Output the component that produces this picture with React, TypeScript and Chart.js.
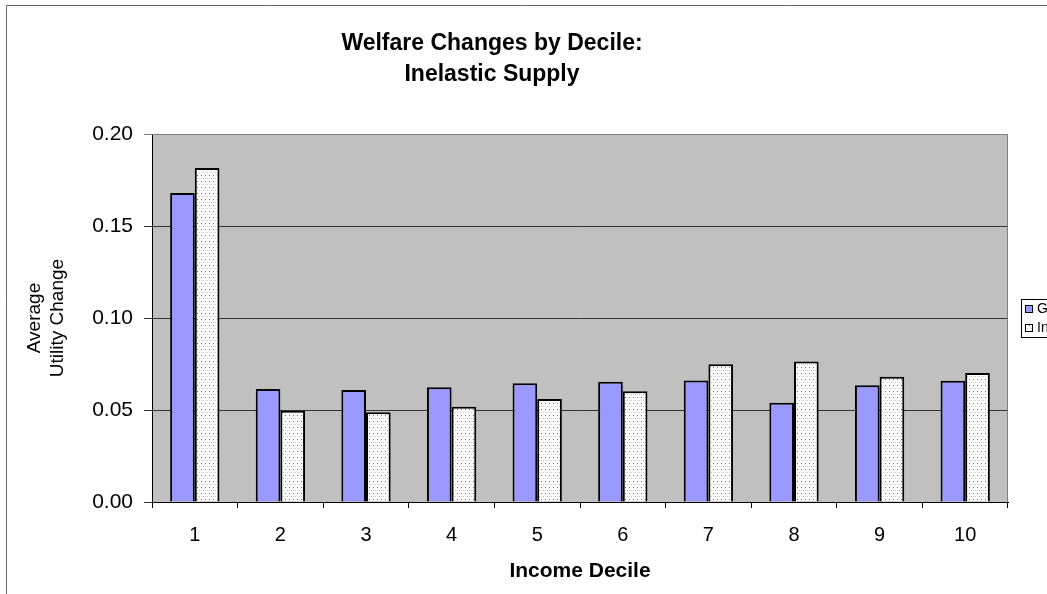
import React, { useEffect, useRef } from "react";
import { Chart, registerables } from "chart.js";

Chart.register(...registerables);

const categories = ["1", "2", "3", "4", "5", "6", "7", "8", "9", "10"];
const seriesNames = ["Gasoline Tax", "Income Tax"];
const seriesG = [0.168, 0.0614, 0.0609, 0.0623, 0.0645, 0.0654, 0.066, 0.054, 0.0634, 0.0659];
const seriesI = [0.1815, 0.0496, 0.0488, 0.0518, 0.056, 0.0602, 0.0748, 0.0763, 0.0681, 0.0701];
const titleLines = ["Welfare Changes by Decile:", "Inelastic Supply"];
const xTitle = "Income Decile";
const yTitle = ["Average", "Utility Change"];

const FONT = "'Liberation Sans', Arial, sans-serif";

function makePattern(): CanvasPattern | string {
  const c = document.createElement("canvas");
  c.width = 4;
  c.height = 6;
  const g = c.getContext("2d");
  if (!g) return "#ffffff";
  g.fillStyle = "#ffffff";
  g.fillRect(0, 0, 4, 6);
  g.fillStyle = "#c2487f";
  g.fillRect(1, 1, 1, 1);
  g.fillStyle = "#eeb0cb";
  g.fillRect(3, 4, 1, 1);
  g.fillStyle = "#f6d6e4";
  g.fillRect(1, 4, 1, 1);
  const p = g.createPattern(c, "repeat");
  return p || "#ffffff";
}

export default function App() {
  const ref = useRef<HTMLCanvasElement | null>(null);

  useEffect(() => {
    if (!ref.current) return;
    const pattern = makePattern();

    const framePlugin = {
      id: "frame",
      beforeDraw(chart: any) {
        const { ctx, chartArea } = chart;
        ctx.save();
        ctx.fillStyle = "#ffffff";
        ctx.fillRect(0, 0, chart.width, chart.height);
        ctx.strokeStyle = "#666666";
        ctx.lineWidth = 1;
        ctx.beginPath();
        ctx.moveTo(6.5, 600);
        ctx.lineTo(6.5, 5.5);
        ctx.lineTo(1100, 5.5);
        ctx.stroke();
        ctx.fillStyle = "#c0c0c0";
        ctx.fillRect(chartArea.left, chartArea.top, chartArea.right - chartArea.left, chartArea.bottom - chartArea.top);
        ctx.restore();
      },
      afterLayout(chart: any) {
        if (chart.titleBlock) {
          chart.titleBlock.left = 0;
          chart.titleBlock.right = 984;
        }
      },
      beforeDatasetsDraw(chart: any) {
        const { ctx, chartArea } = chart;
        ctx.save();
        ctx.strokeStyle = "#808080";
        ctx.lineWidth = 1;
        ctx.beginPath();
        ctx.moveTo(chartArea.left, chartArea.top + 0.5);
        ctx.lineTo(chartArea.right - 0.5, chartArea.top + 0.5);
        ctx.lineTo(chartArea.right - 0.5, chartArea.bottom);
        ctx.stroke();
        ctx.restore();
      },
      afterDraw(chart: any) {
        const { ctx } = chart;
        const ds = chart.data.datasets;
        ctx.save();
        const bx = 1021.5, by = 299.5, bw = 60, bh = 38;
        ctx.fillStyle = "#ffffff";
        ctx.fillRect(bx, by, bw, bh);
        ctx.strokeStyle = "#000000";
        ctx.lineWidth = 1;
        ctx.strokeRect(bx, by, bw, bh);
        ctx.font = `14px ${FONT}`;
        ctx.textBaseline = "middle";
        ctx.textAlign = "left";
        const rows = [309, 328];
        ds.forEach((d: any, i: number) => {
          const y = rows[i];
          ctx.fillStyle = d.backgroundColor;
          ctx.fillRect(1025, y - 4, 8, 8);
          ctx.strokeStyle = "#000000";
          ctx.strokeRect(1025.5, y - 3.5, 7, 7);
          ctx.fillStyle = "#000000";
          ctx.fillText(d.label, 1037, y);
        });
        ctx.restore();
      },
    };

    const chart = new Chart(ref.current, {
      type: "bar",
      data: {
        labels: categories,
        datasets: [
          {
            label: seriesNames[0],
            data: seriesG,
            backgroundColor: "#9999ff",
            borderColor: "#000000",
            borderWidth: 2,
            categoryPercentage: 0.576,
            barPercentage: 1,
          },
          {
            label: seriesNames[1],
            data: seriesI,
            backgroundColor: pattern as any,
            borderColor: "#000000",
            borderWidth: 2,
            categoryPercentage: 0.576,
            barPercentage: 1,
          },
        ],
      },
      options: {
        animation: false,
        responsive: false,
        maintainAspectRatio: false,
        layout: { padding: { left: 0, right: 39, top: 0, bottom: 0 } },
        plugins: {
          legend: { display: false },
          tooltip: { enabled: false },
          title: {
            display: true,
            text: titleLines,
            color: "#000000",
            font: { family: FONT, size: 23, weight: "bold", lineHeight: 1.348 },
            padding: { top: 28.5, bottom: 43.5 },
          },
        },
        scales: {
          x: {
            type: "category",
            offset: true,
            afterFit: (s: any) => {
              s.height = 92;
            },
            grid: {
              offset: true,
              drawOnChartArea: false,
              drawTicks: true,
              tickLength: 6,
              color: "#000000",
            },
            border: { color: "#000000", width: 1 },
            ticks: {
              color: "#000000",
              font: { family: FONT, size: 20 },
              padding: 15,
              maxRotation: 0,
            },
            title: {
              display: true,
              text: xTitle,
              color: "#000000",
              font: { family: FONT, size: 21, weight: "bold" },
              padding: { top: 0, bottom: 10.4 },
            },
          },
          y: {
            min: 0,
            max: 0.2,
            afterFit: (s: any) => {
              s.width = 152;
            },
            grid: {
              drawTicks: true,
              tickLength: 8,
              color: (c: any) => (c.tick && c.tick.value > 0.199 ? "#808080" : "#333333"),
            },
            border: { color: "#000000", width: 1 },
            ticks: {
              stepSize: 0.05,
              color: "#000000",
              font: { family: FONT, size: 21 },
              padding: 11,
              callback: (v: any) => Number(v).toFixed(2),
            },
            title: {
              display: true,
              text: yTitle,
              color: "#000000",
              font: { family: FONT, size: 19, lineHeight: 1.2 },
              padding: { top: 23.6, bottom: 0 },
            },
          },
        },
      },
      plugins: [framePlugin],
    });

    return () => chart.destroy();
  }, []);

  return (
    <div style={{ position: "absolute", left: 0, top: 0, width: 1047, height: 594, overflow: "hidden" }}>
      <canvas ref={ref} width={1047} height={594} style={{ display: "block" }} />
    </div>
  );
}
